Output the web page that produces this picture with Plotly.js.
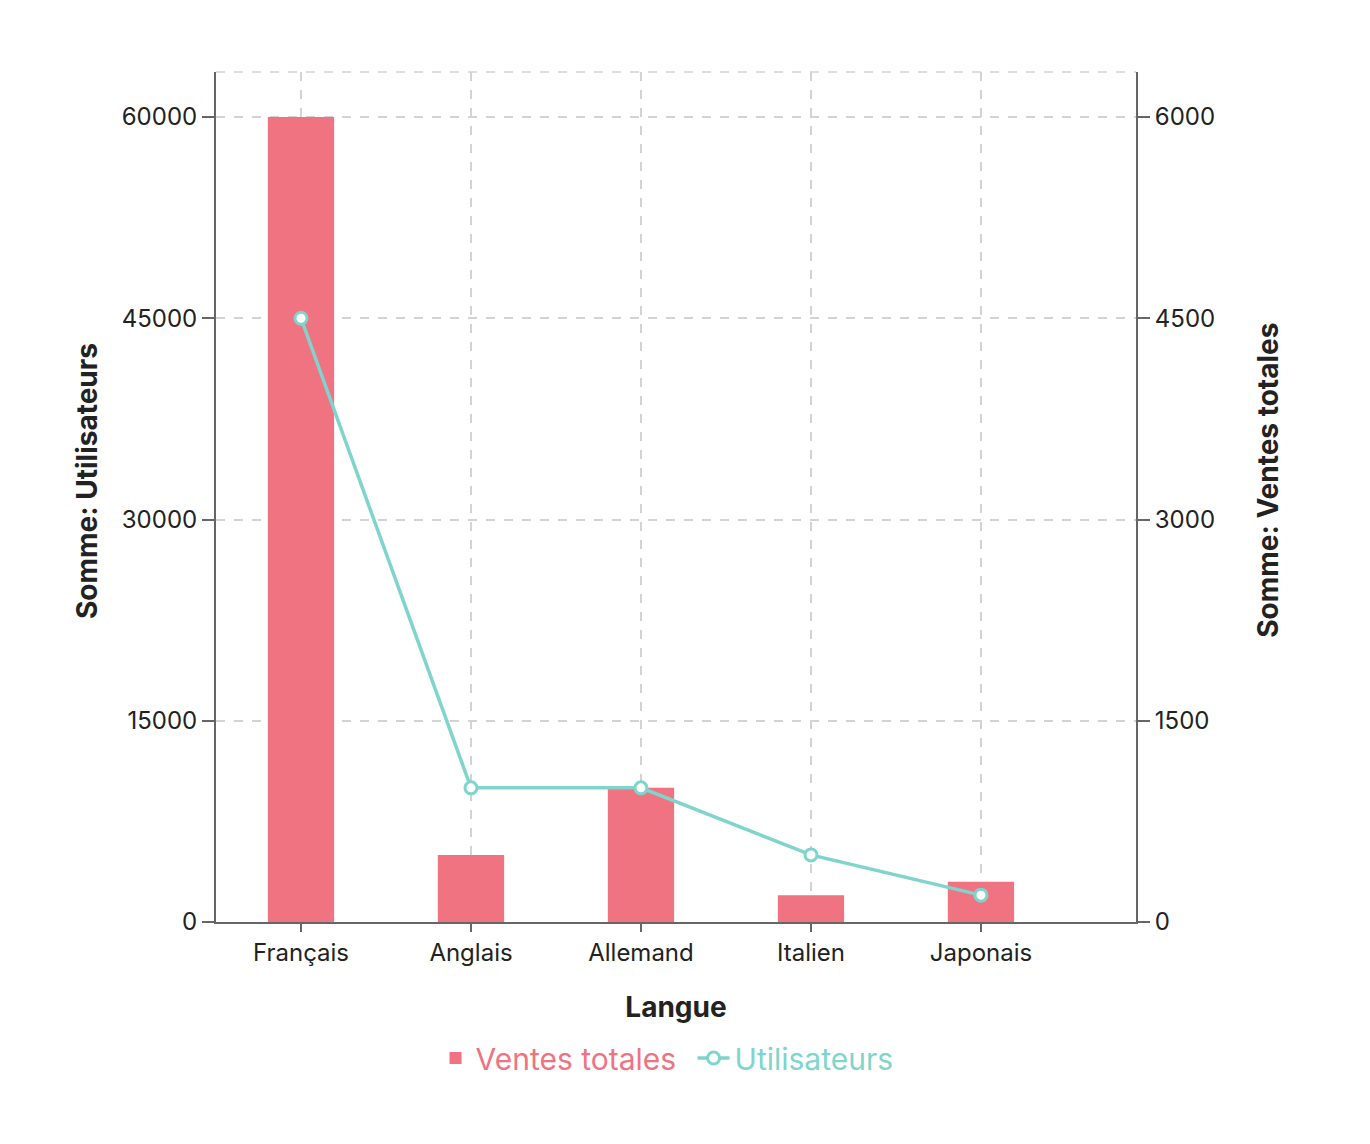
<!DOCTYPE html>
<html>
<head>
<meta charset="utf-8">
<script src="https://cdn.plot.ly/plotly-3.0.1.min.js"></script>
<style>
  body { margin: 0; background: #fff; }
  #chart { width: 1370px; height: 1144px; }
</style>
</head>
<body>
<div id="chart"></div>
<script>
var langues = ['Français', 'Anglais', 'Allemand', 'Italien', 'Japonais'];
var ventesTotales = [6000, 500, 1000, 200, 300];
var utilisateurs = [45000, 10000, 10000, 5000, 2000];

var rouge = '#f07382';
var turquoise = '#7fd4cc';

// bars on the right-hand axis, line on the overlaying left axis so it sits on top
var barTrace = {
  x: langues,
  y: ventesTotales,
  name: 'Ventes totales',
  type: 'bar',
  yaxis: 'y',
  width: 0.39,
  marker: { color: rouge },
  legend: 'legend'
};

var lineTrace = {
  x: langues,
  y: utilisateurs,
  name: 'Utilisateurs',
  type: 'scatter',
  mode: 'lines+markers',
  yaxis: 'y2',
  line: { color: turquoise, width: 3.5 },
  marker: { color: '#fff', size: 12, line: { color: turquoise, width: 3 } },
  legend: 'legend2'
};

var font = 'Inter, "Open Sans", sans-serif';
var axisCommon = {
  showline: true,
  linecolor: '#666',
  linewidth: 2,
  ticks: 'outside',
  tickwidth: 2,
  tickcolor: '#666',
  zeroline: false,
  tickfont: { size: 24, color: '#222' }
};
var titleFont = { family: font, size: 28, weight: 'bold', color: '#222' };

var layout = {
  width: 1370,
  height: 1144,
  margin: { l: 216, r: 234, t: 72, b: 222 },
  paper_bgcolor: '#fff',
  plot_bgcolor: '#fff',
  font: { family: font, size: 24, color: '#222' },
  showlegend: true,
  legend: {
    orientation: 'h',
    x: 0.506, xanchor: 'right',
    y: -0.16, yanchor: 'middle',
    font: { size: 30, color: rouge }
  },
  legend2: {
    orientation: 'h',
    x: 0.518, xanchor: 'left',
    y: -0.16, yanchor: 'middle',
    font: { size: 30, color: turquoise },
    itemwidth: 32
  },
  xaxis: Object.assign({}, axisCommon, {
    type: 'category',
    range: [-0.5, 4.912],
    ticklen: 8,
    showgrid: true,
    gridcolor: '#d3d3d3',
    griddash: 'dash',
    gridwidth: 1.5,
    title: { text: 'Langue', font: titleFont, standoff: 32 }
  }),
  yaxis: Object.assign({}, axisCommon, {
    side: 'right',
    range: [0, 6335.4],
    tickvals: [0, 1500, 3000, 4500, 6000],
    tickformat: 'd',
    ticklen: 12,
    showgrid: true,
    gridcolor: '#d3d3d3',
    griddash: 'dash',
    gridwidth: 1.5
  }),
  yaxis2: Object.assign({}, axisCommon, {
    overlaying: 'y',
    side: 'left',
    range: [0, 63354],
    tickvals: [0, 15000, 30000, 45000, 60000],
    tickformat: 'd',
    ticklen: 12,
    showgrid: false
  }),
  annotations: [
    { text: 'Somme: Utilisateurs', xref: 'paper', yref: 'paper', x: -0.140, y: 0.519,
      textangle: -90, showarrow: false, xanchor: 'center', yanchor: 'middle', font: titleFont },
    { text: 'Somme: Ventes totales', xref: 'paper', yref: 'paper', x: 1.1435, y: 0.519,
      textangle: -90, showarrow: false, xanchor: 'center', yanchor: 'middle', font: titleFont }
  ],
  shapes: [{
    type: 'line', xref: 'paper', yref: 'paper',
    x0: 0, x1: 1, y0: 1, y1: 1,
    line: { color: '#d3d3d3', width: 1.5, dash: 'dash' },
    layer: 'below'
  }]
};

Plotly.newPlot('chart', [barTrace, lineTrace], layout, { displayModeBar: false });
</script>
</body>
</html>
